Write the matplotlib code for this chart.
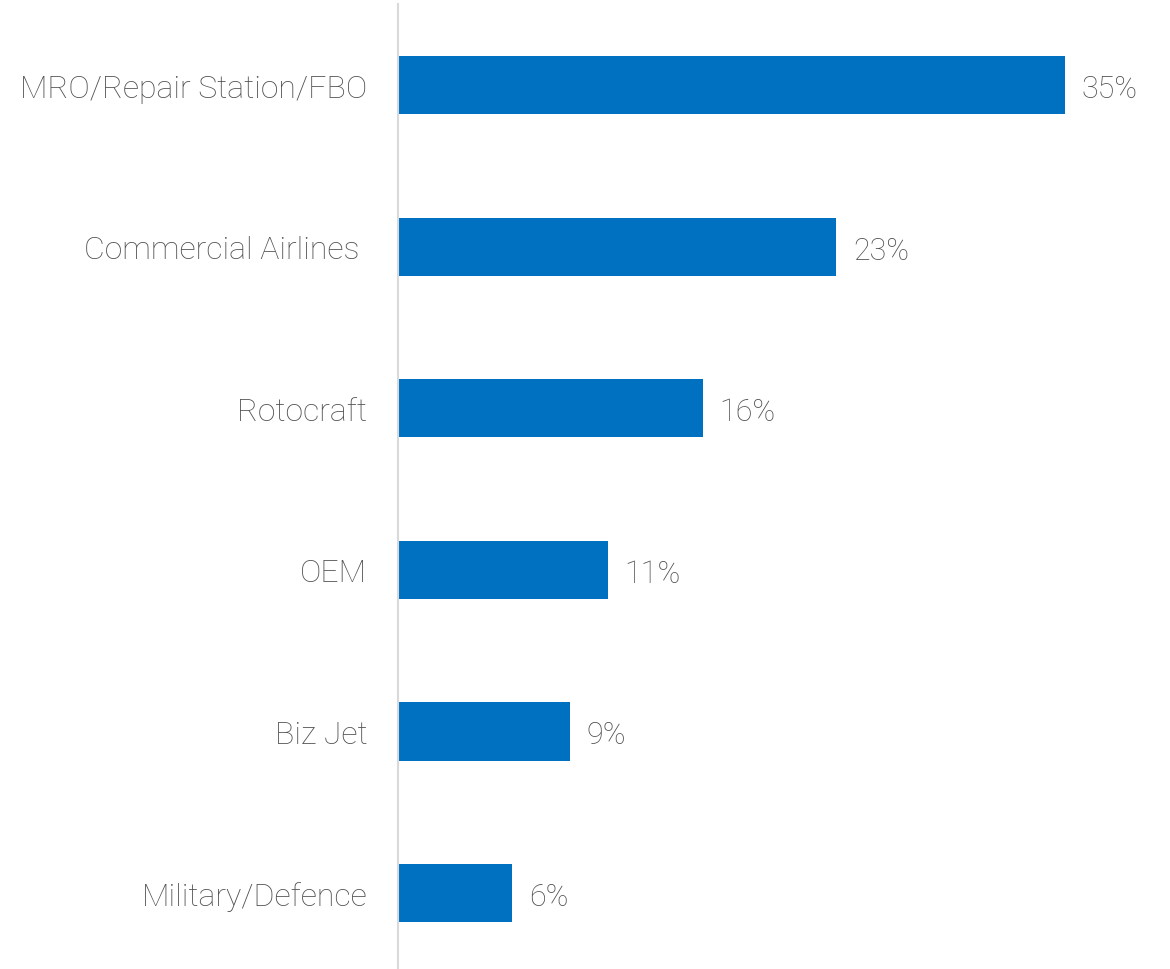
import matplotlib
matplotlib.use("Agg")
import matplotlib.pyplot as plt

categories = ["MRO/Repair Station/FBO", "Commercial Airlines ", "Rotocraft", "OEM", "Biz Jet", "Military/Defence"]
values = [35, 23, 16, 11, 9, 6]
value_labels = ["35%", "23%", "16%", "11%", "9%", "6%"]

BAR_COLOR = "#0070C0"
TEXT_COLOR = "#505050"
FONT = ["Roboto", "DejaVu Sans"]

fig = plt.figure(figsize=(11.7, 9.7), dpi=100)
ax = fig.add_axes([0.3402, -0.005, 0.6515, 0.9996])

pos = list(range(len(categories)))
ax.barh(pos, values, height=0.36, color=BAR_COLOR)
ax.set_ylim(len(categories) - 0.5, -0.5)
ax.set_xlim(0, 40)

for p, v, lab in zip(pos, values, value_labels):
    ax.annotate(lab, xy=(v, p), xytext=(12, -2.5), textcoords="offset points",
                ha="left", va="center", fontsize=22, color=TEXT_COLOR,
                family=FONT, fontweight="light")

ax.set_yticks(pos)
ax.set_yticklabels(categories, fontsize=23, color=TEXT_COLOR, family=FONT, fontweight="light")
ax.tick_params(axis="y", length=0, pad=22)
ax.set_xticks([])

for s in ["top", "right", "bottom"]:
    ax.spines[s].set_visible(False)
ax.spines["left"].set_color("#D9D9D9")
ax.spines["left"].set_linewidth(1.5)

fig.savefig("out.png", dpi=100, facecolor="white")
